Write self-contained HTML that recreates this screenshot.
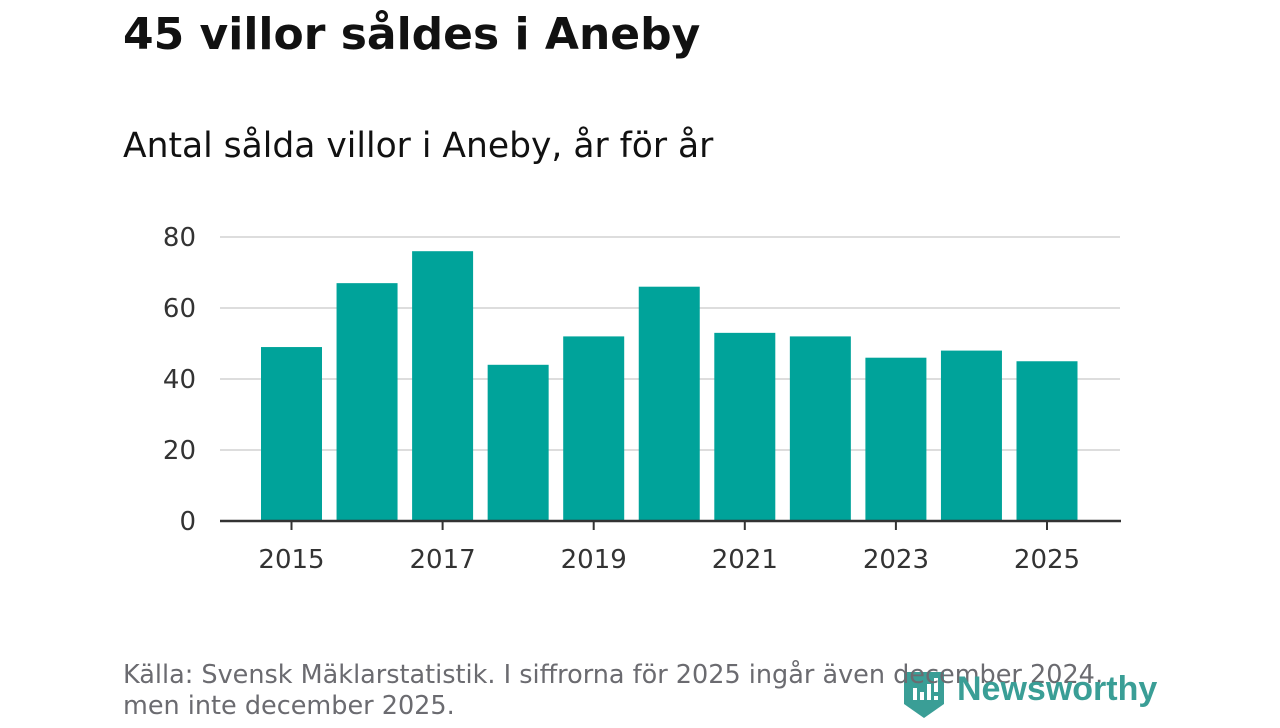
<!DOCTYPE html>
<html><head><meta charset="utf-8"><style>
body{margin:0;width:1280px;height:720px;background:#fff;overflow:hidden;position:relative;font-family:"DejaVu Sans","Liberation Sans",sans-serif;}
.t{position:absolute;white-space:nowrap}
</style></head><body>
<div class="t" style="left:123px;top:9px;font-size:44px;font-weight:bold;color:#111">45 villor såldes i Aneby</div>
<div class="t" style="left:123px;top:126px;font-size:34.5px;color:#111">Antal sålda villor i Aneby, år för år</div>
<svg id="c" width="1280" height="720" style="position:absolute;left:0;top:0"></svg>
<svg width="60" height="60" style="position:absolute;left:900px;top:668px">
<path d="M4 4 H44 V36 L24 50 L4 36 Z" fill="#3a9e96"/>
<rect x="13" y="20" width="4" height="12" fill="#fff"/><rect x="20" y="24" width="4" height="8" fill="#fff"/><rect x="27" y="16" width="4" height="16" fill="#fff"/><rect x="34" y="10" width="4" height="14" fill="#fff"/><rect x="34" y="28" width="4" height="4" fill="#fff"/>
</svg>
<div class="t" style="left:123px;top:660px;font-size:25.5px;line-height:31px;color:#6b6b70">Källa: Svensk Mäklarstatistik. I siffrorna för 2025 ingår även december 2024,<br>men inte december 2025.</div>
<div class="t" style="left:957px;top:670px;font-size:34px;font-weight:bold;color:#3a9e96;font-family:'Liberation Sans',sans-serif">Newsworthy</div>
<script>
const years=[2015,2016,2017,2018,2019,2020,2021,2022,2023,2024,2025];
const values=[49,67,76,44,52,66,53,52,46,48,45];
const yTicks=[0,20,40,60,80];
const xLabels=[2015,2017,2019,2021,2023,2025];
const svg=document.getElementById('c');const NS='http://www.w3.org/2000/svg';
const y=v=>521-v*(284/80);
const x=i=>291.5+i*75.55;
function mk(t,a){const e=document.createElementNS(NS,t);for(const k in a)e.setAttribute(k,a[k]);svg.appendChild(e);return e;}
yTicks.forEach(v=>{
 if(v>0){const g=mk('line',{x1:220,x2:1120,y1:y(v),y2:y(v),stroke:'#ddd','stroke-width':2});
 
 }
 const t=mk('text',{x:196,y:y(v)+9,'text-anchor':'end','font-size':26,fill:'#333','font-family':'DejaVu Sans, sans-serif'});t.textContent=v;
 
 
});
values.forEach((v,i)=>{const r=mk('rect',{x:x(i)-30.5,y:y(v),width:61,height:521-y(v),fill:'#00a39a'});
 
 });
const ax=mk('line',{x1:220,x2:1121,y1:521,y2:521,stroke:'#333','stroke-width':2.5});


xLabels.forEach(l=>{const i=years.indexOf(l);
 const tk=mk('line',{x1:x(i),x2:x(i),y1:521,y2:530,stroke:'#333','stroke-width':2});
 
 
 const t=mk('text',{x:x(i),y:568,'text-anchor':'middle','font-size':26,fill:'#333','font-family':'DejaVu Sans, sans-serif'});t.textContent=l;
 
 });
</script>
</body></html>
